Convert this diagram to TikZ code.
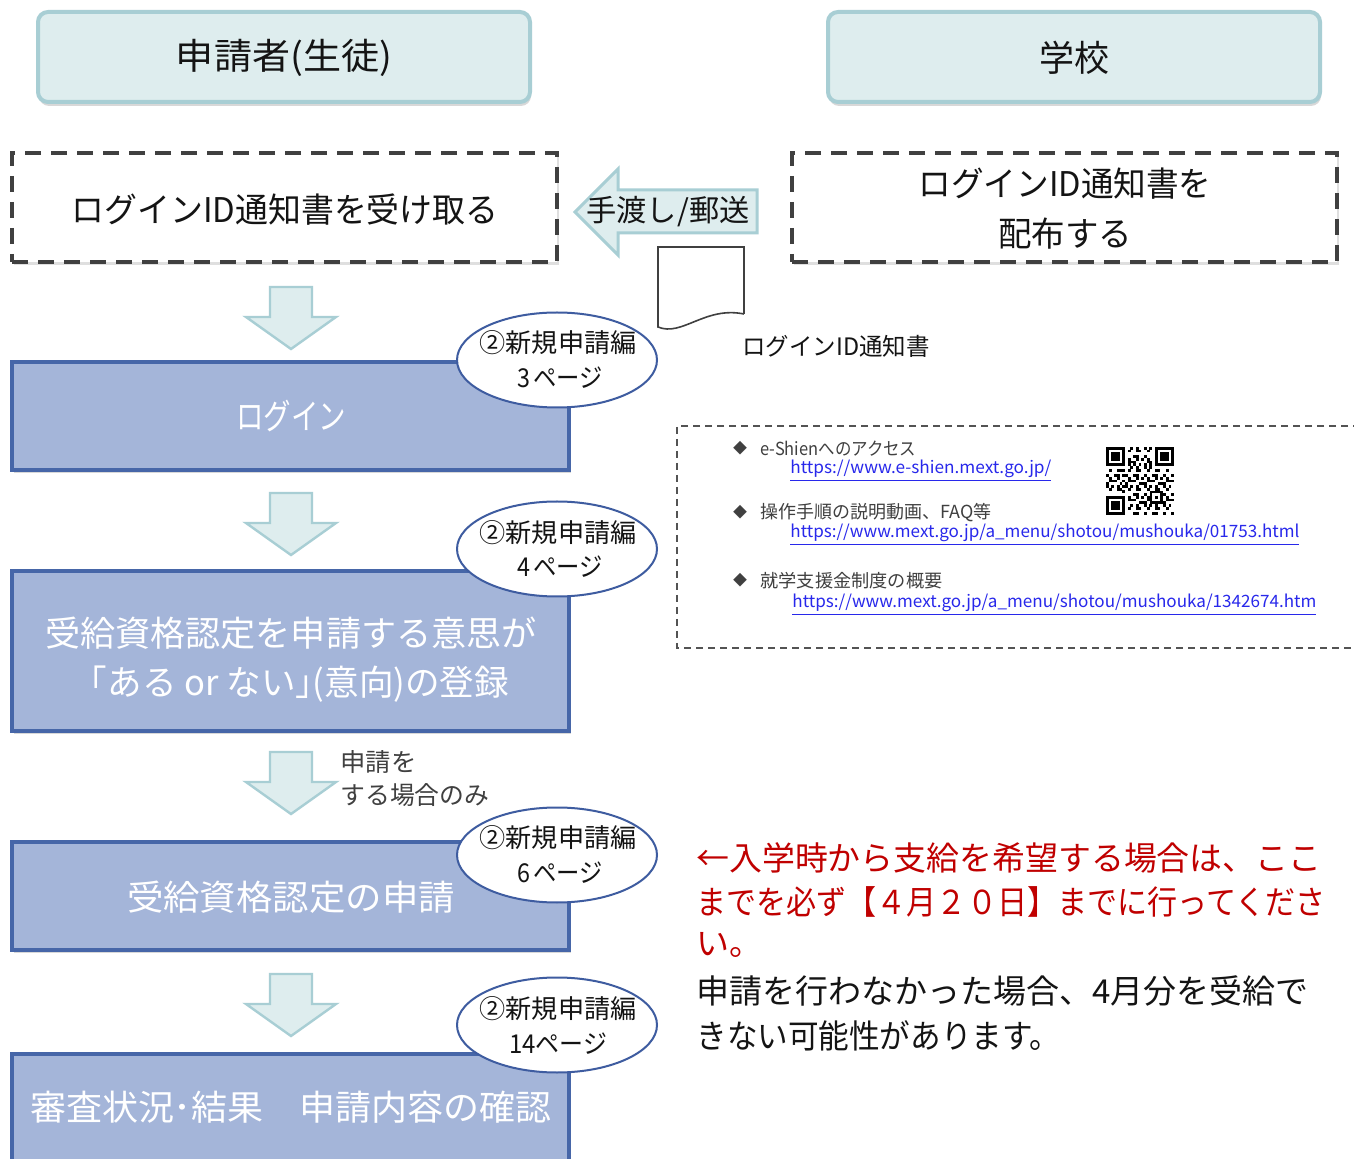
\documentclass[tikz,border=0pt]{standalone}
\usepackage{fontspec}
\setmainfont{Noto Sans CJK JP}
\usetikzlibrary{shadows,shapes.geometric}
\definecolor{hdfill}{RGB}{222,237,238}
\definecolor{hdline}{RGB}{168,206,212}
\definecolor{bxfill}{RGB}{164,181,217}
\definecolor{bxline}{RGB}{70,102,168}
\definecolor{elline}{RGB}{62,92,160}
\definecolor{dashc}{RGB}{64,64,64}
\definecolor{redt}{RGB}{192,0,0}
\definecolor{urlc}{RGB}{40,40,235}
\definecolor{grayt}{RGB}{64,64,64}
\definecolor{darkt}{RGB}{20,20,20}
\newcommand\fitw[2]{\resizebox{#1}{\height}{#2}}
\newcommand\fs[1]{\fontsize{#1}{#1}\selectfont}
\begin{document}
\begin{tikzpicture}[x=0.5pt,y=-0.5pt,
  header/.style={draw=hdline, line width=2pt, fill=hdfill, rounded corners=5pt,
    minimum width=246pt, minimum height=45pt, inner sep=0pt,
    drop shadow={shadow xshift=0.5pt, shadow yshift=-2pt, opacity=0.3}},
  dashbox/.style={draw=dashc, line width=2pt, dash pattern=on 8pt off 5pt, fill=white,
    minimum width=272.5pt, minimum height=54.5pt, inner sep=0pt,
    drop shadow={shadow xshift=1pt, shadow yshift=-1.5pt, opacity=0.25}},
  bluebox/.style={draw=bxline, line width=1.75pt, fill=bxfill, minimum width=278.5pt,
    inner sep=0pt, drop shadow={shadow xshift=1pt, shadow yshift=-1.5pt, opacity=0.3}},
  ell/.style={ellipse, draw=elline, line width=1pt, fill=white, minimum width=100pt,
    minimum height=47.5pt, inner sep=0pt},
  txt/.style={inner sep=0pt, text=darkt},
  wtxt/.style={inner sep=0pt, text=white},
  etxt/.style={inner sep=0pt, text=darkt, font=\fs{13}},
  itxt/.style={inner sep=0pt, anchor=west, text=grayt, font=\fs{9}},
  utxt/.style={inner sep=0pt, anchor=west, text=urlc, font=\fs{8.5}},
  bul/.style={inner sep=0pt, text=grayt, font=\fs{7}},
  downarr/.pic={\draw[fill=hdfill, draw=hdline, line width=1.2pt, line join=miter]
    (-21,0) -- (21,0) -- (21,30) -- (45,30) -- (0,62) -- (-45,30) -- (-21,30) -- cycle;}
]
\clip (0,0) rectangle (1354,1159);
\fill[white] (0,0) rectangle (1354,1159);

% headers
\node[header] (hstu) at (284,57) {};
\node[txt] at (284,58) {\fs{18}\fitw{108pt}{申請者(生徒)}};
\node[header] (hsch) at (1074,57) {};
\node[txt] at (1074,58) {\fs{18}\fitw{35pt}{学校}};

% dashed boxes
\node[dashbox] (recv) at (284.5,207.5) {};
\node[txt] at (285,210) {\fs{17}\fitw{213.5pt}{ログインID通知書を受け取る}};
\node[dashbox] (dist) at (1064.5,207.5) {};
\node[txt] at (1065,184) {\fs{17}\fitw{146.5pt}{ログインID通知書を}};
\node[txt] at (1065,234) {\fs{17}\fitw{67pt}{配布する}};

% hand-over arrow
\draw[fill=hdfill, draw=hdline, line width=1.5pt, line join=miter]
  (575,212) -- (618,169) -- (618,190) -- (757,190) -- (757,233) -- (618,233) -- (618,255) -- cycle;
\node[txt] (hand) at (668,212) {\fs{15}\fitw{81.5pt}{手渡し/郵送}};

% document icon
\draw[fill=white, draw=dashc, line width=0.8pt]
  (744,314) -- (744,247) -- (658,247) -- (658,327) .. controls (682,337) and (705,306) .. (744,314);
\node[txt] (doclbl) at (836,346) {\fs{12}\fitw{93.5pt}{ログインID通知書}};

% flow arrows
\pic at (291,287) {downarr};
\pic at (291,493) {downarr};
\pic at (291,752) {downarr};
\pic at (291,974) {downarr};

% blue boxes
\node[bluebox, minimum height=54pt] (login) at (290.5,416) {};
\node[wtxt] at (291,416) {\fs{17.5}\fitw{55pt}{ログイン}};
\node[bluebox, minimum height=80pt] (intent) at (290.5,651) {};
\node[wtxt] at (291,633) {\fs{17.5}\fitw{246pt}{受給資格認定を申請する意思が}};
\node[wtxt] at (291,684) {\fs{17.5}\fitw{218pt}{「ある or ない｣(意向)の登録}};
\node[bluebox, minimum height=54pt] (apply) at (290.5,896) {};
\node[wtxt] at (291,897) {\fs{17.5}\fitw{164pt}{受給資格認定の申請}};
\node[bluebox, minimum height=54pt] (check) at (290.5,1108) {};
\node[wtxt] at (291,1107) {\fs{17.5}\fitw{261pt}{審査状況･結果　申請内容の確認}};

% condition label
\node[txt, text=grayt, anchor=west] at (340,762) {\fs{12.5}\fitw{38pt}{申請を}};
\node[txt, text=grayt, anchor=west] at (340,795) {\fs{12.5}\fitw{74.5pt}{する場合のみ}};

% ellipses
\node[ell] (e1) at (557,360) {};
\node[etxt] at (558,343) {\fitw{78.5pt}{②新規申請編}};
\node[etxt] at (560,378) {\fitw{43pt}{3\hspace{2pt}ページ}};
\node[ell] (e2) at (557,549) {};
\node[etxt] at (558,533) {\fitw{78.5pt}{②新規申請編}};
\node[etxt] at (560,567) {\fitw{43pt}{4\hspace{2pt}ページ}};
\node[ell] (e3) at (557,855) {};
\node[etxt] at (558,838) {\fitw{78.5pt}{②新規申請編}};
\node[etxt] at (560,873) {\fitw{43pt}{6\hspace{2pt}ページ}};
\node[ell] (e4) at (557,1025) {};
\node[etxt] at (558,1009) {\fitw{78.5pt}{②新規申請編}};
\node[etxt] at (558,1044) {\fitw{49pt}{14ページ}};

% info box
\draw[draw=grayt!90, line width=0.8pt, dash pattern=on 3.5pt off 2.5pt]
  (1360,426) -- (677,426) -- (677,648) -- (1360,648);
\node[bul] (b1) at (740,448) {◆};
\node[itxt] (i1) at (760,449) {\fitw{78pt}{e-Shienへのアクセス}};
\node[utxt] (u1) at (790,471) {\fitw{130.5pt}{\underline{https://www.e-shien.mext.go.jp/}}};
\node[bul] (b2) at (740,512) {◆};
\node[itxt] (i2) at (760,513) {\fitw{115.5pt}{操作手順の説明動画、FAQ等}};
\node[utxt] (u2) at (790,535) {\fitw{254.5pt}{\underline{https://www.mext.go.jp/a\_menu/shotou/mushouka/01753.html}}};
\node[bul] (b3) at (740,580) {◆};
\node[itxt] (i3) at (760,581) {\fitw{91pt}{就学支援金制度の概要}};
\node[utxt] (u3) at (792,605) {\fitw{262pt}{\underline{https://www.mext.go.jp/a\_menu/shotou/mushouka/1342674.htm}}};

% QR code
\begin{scope}[shift={(1106,447)}, x=1.36pt, y=-1.36pt]
  \foreach \a/\b in {0/0,18/0,0/18}{
    \fill[black] (\a,\b) rectangle ++(7,7);
    \fill[white] (\a+1,\b+1) rectangle ++(5,5);
    \fill[black] (\a+2,\b+2) rectangle ++(3,3);
  }
  \fill[black] (16,16) rectangle ++(5,5);
  \fill[white] (17,17) rectangle ++(3,3);
  \fill[black] (18,18) rectangle ++(1,1);
  \foreach \i in {0,...,24}{\foreach \j in {0,...,24}{
    \pgfmathtruncatemacro\qskp{((\i<8)&&(\j<8))||((\i>16)&&(\j<8))||((\i<8)&&(\j>16))||((\i>15)&&(\i<21)&&(\j>15)&&(\j<21))}
    \ifnum\qskp=0
      \pgfmathtruncatemacro\qtim{(\i==6)||(\j==6)}
      \ifnum\qtim=1
        \pgfmathtruncatemacro\qh{mod(\i+\j,2)*3}
      \else
        \pgfmathtruncatemacro\qh{mod(\i*\i*7+\j*\j*3+\i*\j*5+\i*11+\j*17,7)}
      \fi
      \ifnum\qh<3 \fill[black] (\i-0.02,\j-0.02) rectangle ++(1.04,1.04); \fi
    \fi
  }}
\end{scope}

% notes
\node[txt, text=redt, anchor=west] (r1) at (696,858) {\fs{16.5}\fitw{312.5pt}{←入学時から支給を希望する場合は、ここ}};
\node[txt, text=redt, anchor=west] (r2) at (696,902) {\fs{16.5}\fitw{314.5pt}{までを必ず【４月２０日】までに行ってくださ}};
\node[txt, text=redt, anchor=west] (r3) at (696,945) {\fs{16.5}い。};
\node[txt, anchor=west] (k1) at (696,991) {\fs{16.5}\fitw{306pt}{申請を行わなかった場合、4月分を受給で}};
\node[txt, anchor=west] (k2) at (696,1036) {\fs{16.5}\fitw{182pt}{きない可能性があります。}};
\end{tikzpicture}
\end{document}
